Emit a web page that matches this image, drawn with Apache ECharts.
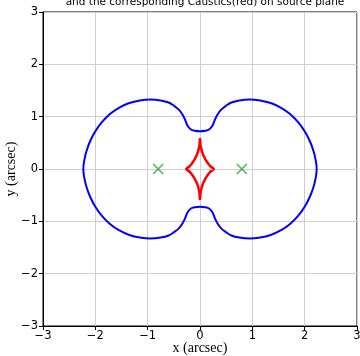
<!DOCTYPE html>
<html>
<head>
<meta charset="utf-8">
<script src="https://cdn.jsdelivr.net/npm/echarts@6/dist/echarts.min.js"></script>
<style>
  html, body { margin: 0; padding: 0; background: #fff; }
  #chart { width: 360px; height: 356px; }
</style>
</head>
<body>
<div id="chart"></div>
<script>
// ticks on both axes
const ticks = [-3, -2, -1, 0, 1, 2, 3];

// critical curve (image plane), closed loop
const criticalCurve = [
  [0, 0.72], [0.1, 0.73], [0.18, 0.76], [0.24, 0.83], [0.28, 0.93], [0.33, 1.03],
  [0.4, 1.13], [0.5, 1.21], [0.6, 1.27], [0.75, 1.31], [0.95, 1.33], [1.15, 1.31],
  [1.35, 1.26], [1.55, 1.17], [1.72, 1.05], [1.87, 0.9], [2.0, 0.72], [2.1, 0.53],
  [2.17, 0.34], [2.21, 0.17], [2.23, 0],
  [2.21, -0.17], [2.17, -0.34], [2.1, -0.53], [2.0, -0.72], [1.87, -0.9], [1.72, -1.05],
  [1.55, -1.17], [1.35, -1.26], [1.15, -1.31], [0.95, -1.33], [0.75, -1.31], [0.6, -1.27],
  [0.5, -1.21], [0.4, -1.13], [0.33, -1.03], [0.28, -0.93], [0.24, -0.83], [0.18, -0.76],
  [0.1, -0.73], [0, -0.72],
  [-0.1, -0.73], [-0.18, -0.76], [-0.24, -0.83], [-0.28, -0.93], [-0.33, -1.03],
  [-0.4, -1.13], [-0.5, -1.21], [-0.6, -1.27], [-0.75, -1.31], [-0.95, -1.33], [-1.15, -1.31],
  [-1.35, -1.26], [-1.55, -1.17], [-1.72, -1.05], [-1.87, -0.9], [-2.0, -0.72], [-2.1, -0.53],
  [-2.17, -0.34], [-2.21, -0.17], [-2.23, 0],
  [-2.21, 0.17], [-2.17, 0.34], [-2.1, 0.53], [-2.0, 0.72], [-1.87, 0.9], [-1.72, 1.05],
  [-1.55, 1.17], [-1.35, 1.26], [-1.15, 1.31], [-0.95, 1.33], [-0.75, 1.31], [-0.6, 1.27],
  [-0.5, 1.21], [-0.4, 1.13], [-0.33, 1.03], [-0.28, 0.93], [-0.24, 0.83], [-0.18, 0.76],
  [-0.1, 0.73], [0, 0.72]
];

// caustic (source plane), four cusps
const caustic = [
  [0, 0.59], [0.01, 0.46], [0.03, 0.36], [0.06, 0.27], [0.1, 0.19], [0.15, 0.11], [0.2, 0.05], [0.27, 0],
  [0.2, -0.05], [0.15, -0.11], [0.1, -0.19], [0.06, -0.27], [0.03, -0.36], [0.01, -0.46], [0, -0.59],
  [-0.01, -0.46], [-0.03, -0.36], [-0.06, -0.27], [-0.1, -0.19], [-0.15, -0.11], [-0.2, -0.05], [-0.27, 0],
  [-0.2, 0.05], [-0.15, 0.11], [-0.1, 0.19], [-0.06, 0.27], [-0.03, 0.36], [-0.01, 0.46], [0, 0.59]
];

// lens positions
const lenses = [[-0.8, 0], [0.8, 0]];

const chart = echarts.init(document.getElementById('chart'), null, { renderer: 'canvas' });

const axisCommon = {
  type: 'value',
  min: -3,
  max: 3,
  interval: 1,
  axisLine: { show: true, onZero: false, lineStyle: { color: '#000', width: 1 } },
  axisTick: { show: true, inside: false, length: 4, lineStyle: { color: '#000' } },
  axisLabel: {
    color: '#000', fontSize: 11.5, fontFamily: 'DejaVu Sans',
    formatter: v => (v < 0 ? '\u2212' + Math.abs(v) : String(v))
  },
  splitLine: { show: true, lineStyle: { color: '#cfcfcf', width: 1 } },
  nameLocation: 'middle',
  nameMoveOverlap: false,
  nameTextStyle: { color: '#000', fontSize: 14, fontFamily: 'Liberation Serif' }
};

chart.setOption({
  animation: false,
  title: {
    text: 'and the corresponding Caustics(red) on source plane',
    left: 200,
    textAlign: 'center',
    top: -8,
    textStyle: { fontSize: 10.5, fontWeight: 'normal', color: '#000', fontFamily: 'DejaVu Sans' }
  },
  grid: {
    left: 43, right: 3, top: 12, bottom: 30,
    containLabel: false, outerBoundsMode: 'none',
    show: true, borderColor: '#000', borderWidth: 1, backgroundColor: 'transparent'
  },
  xAxis: Object.assign({}, axisCommon, {
    name: 'x (arcsec)', nameGap: 15,
    axisLabel: Object.assign({}, axisCommon.axisLabel, { margin: 4 })
  }),
  yAxis: Object.assign({}, axisCommon, {
    name: 'y (arcsec)', nameGap: 25,
    axisLabel: Object.assign({}, axisCommon.axisLabel, { margin: 5 })
  }),
  series: [
    {
      type: 'line', data: criticalCurve, smooth: 0.4, symbol: 'none',
      lineStyle: { color: '#0000ff', width: 2 }
    },
    {
      type: 'line', data: caustic, smooth: false, symbol: 'none',
      lineStyle: { color: '#ff0000', width: 2.5 }
    },
    {
      type: 'scatter', data: lenses, symbol: 'path://M0,0L10,10M10,0L0,10', symbolSize: 10,
      itemStyle: { color: 'none', borderColor: '#2ca02c', borderWidth: 1.6 }
    }
  ]
});
</script>
</body>
</html>
